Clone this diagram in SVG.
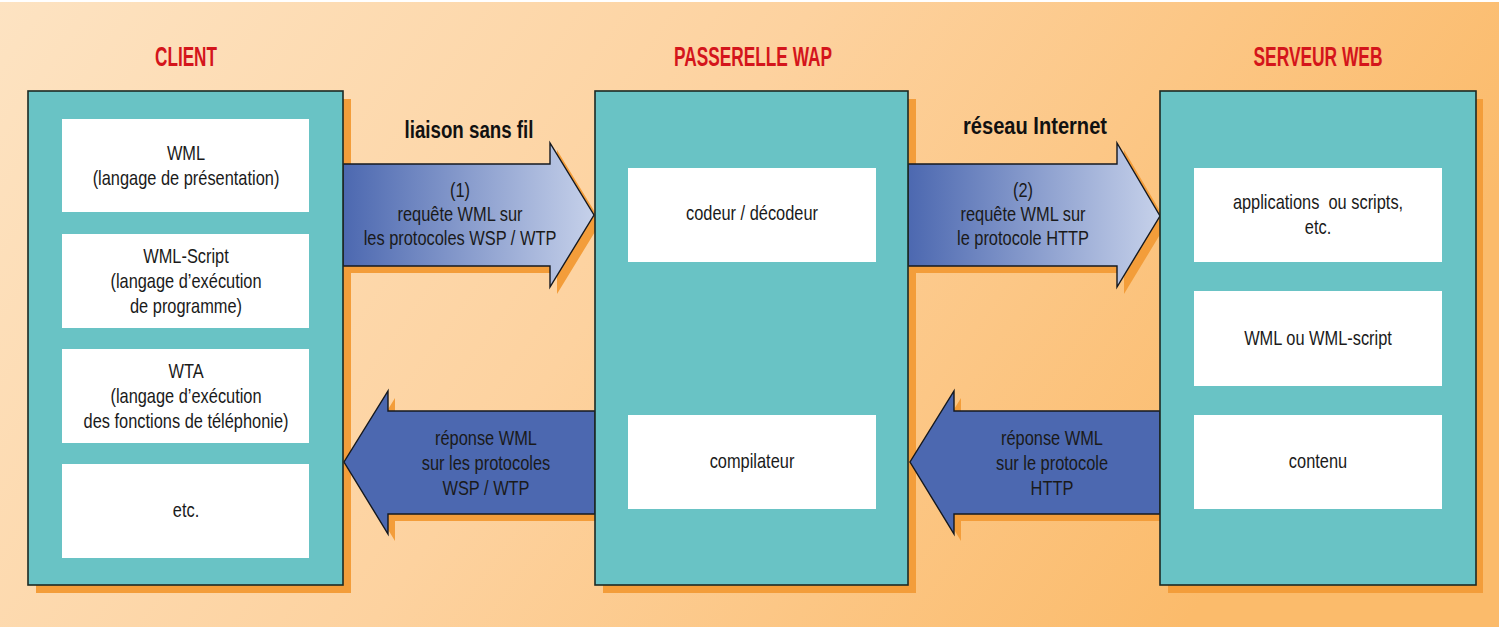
<svg xmlns="http://www.w3.org/2000/svg" width="1499" height="627" viewBox="0 0 1499 627">
<defs>
<linearGradient id="bg" x1="0" y1="0" x2="1" y2="0.3">
<stop offset="0" stop-color="#fde3c2"/>
<stop offset="0.5" stop-color="#fdd29f"/>
<stop offset="1" stop-color="#fbbb6b"/>
</linearGradient>
<linearGradient id="req" x1="0" y1="0" x2="1" y2="0">
<stop offset="0" stop-color="#4c68b0"/>
<stop offset="1" stop-color="#c6d1ea"/>
</linearGradient>
<style>
.shadow{fill:#f39d3a}
.frame{fill:#69c3c5;stroke:#1c2a24;stroke-width:1.6}
.inner{fill:#ffffff}
.arrow{stroke:#14181f;stroke-width:1.4;stroke-linejoin:miter}
.t{font-family:"Liberation Sans",Arial,sans-serif;font-size:20px;fill:#1a1a1a;text-anchor:middle}
.h{font-family:"Liberation Sans",Arial,sans-serif;font-size:27px;font-weight:bold;fill:#d4151b;text-anchor:middle}
.l{font-family:"Liberation Sans",Arial,sans-serif;font-size:23px;font-weight:bold;fill:#111111;text-anchor:middle}
</style>
</defs>
<rect x="0" y="0" width="1499" height="627" fill="url(#bg)"/>
<rect x="0" y="0" width="1499" height="2" fill="#ffffff"/>

<g id="connectors">
<g id="shadows-arrows">
<polygon class="shadow" points="350,171 557,171 557,150 601,222 557,294 557,273 350,273"/>
<polygon class="shadow" points="915,171 1124,171 1124,150 1167,223 1124,294 1124,273 915,273"/>
<polygon class="shadow" points="602,418 395,418 395,398 351,469 395,541 395,521 602,521"/>
<polygon class="shadow" points="1167,418 961,418 961,398 917,469 961,541 961,521 1167,521"/>
</g>
</g>

<g id="box-shadows">
<rect class="shadow" x="36" y="99" width="315" height="494"/>
<rect class="shadow" x="603" y="99" width="313" height="494"/>
<rect class="shadow" x="1168" y="99" width="315" height="494"/>
</g>

<g id="arrows">
<g id="arrow-req1">
<polygon class="arrow" fill="url(#req)" points="343,164 550,164 550,143 594,215 550,287 550,266 343,266"/>
<g transform="translate(460 0) scale(0.82 1)">
<text class="t" x="0" y="197">(1)</text>
<text class="t" x="0" y="221">requête WML sur</text>
<text class="t" x="0" y="245">les protocoles WSP / WTP</text>
</g>
</g>
<g id="arrow-req2">
<polygon class="arrow" fill="url(#req)" points="908,164 1117,164 1117,143 1160,216 1117,287 1117,266 908,266"/>
<g transform="translate(1023 0) scale(0.82 1)">
<text class="t" x="0" y="197">(2)</text>
<text class="t" x="0" y="221">requête WML sur</text>
<text class="t" x="0" y="245">le protocole HTTP</text>
</g>
</g>
<g id="arrow-rep1">
<polygon class="arrow" fill="#4c68b0" points="595,411 388,411 388,391 344,462 388,534 388,514 595,514"/>
<g transform="translate(486 0) scale(0.82 1)">
<text class="t" x="0" y="445">réponse WML</text>
<text class="t" x="0" y="470">sur les protocoles</text>
<text class="t" x="0" y="495">WSP / WTP</text>
</g>
</g>
<g id="arrow-rep2">
<polygon class="arrow" fill="#4c68b0" points="1160,411 954,411 954,391 910,462 954,534 954,514 1160,514"/>
<g transform="translate(1052 0) scale(0.82 1)">
<text class="t" x="0" y="445">réponse WML</text>
<text class="t" x="0" y="470">sur le protocole</text>
<text class="t" x="0" y="495">HTTP</text>
</g>
</g>
</g>

<g id="label-liaison"><text class="l" x="469" y="138" textLength="129" lengthAdjust="spacingAndGlyphs">liaison sans fil</text></g>
<g id="label-reseau"><text class="l" x="1035" y="134" textLength="144" lengthAdjust="spacingAndGlyphs">réseau Internet</text></g>

<g id="client">
<text class="h" x="186" y="66" textLength="62" lengthAdjust="spacingAndGlyphs">CLIENT</text>
<rect class="frame" x="28" y="91" width="315" height="494"/>
<g id="client-wml">
<rect class="inner" x="62" y="119" width="247" height="93"/>
<g transform="translate(186 0) scale(0.82 1)">
<text class="t" x="0" y="160">WML</text>
<text class="t" x="0" y="185">(langage de présentation)</text>
</g>
</g>
<g id="client-wmlscript">
<rect class="inner" x="62" y="234" width="247" height="94"/>
<g transform="translate(186 0) scale(0.82 1)">
<text class="t" x="0" y="263">WML-Script</text>
<text class="t" x="0" y="288">(langage d’exécution</text>
<text class="t" x="0" y="313">de programme)</text>
</g>
</g>
<g id="client-wta">
<rect class="inner" x="62" y="349" width="247" height="94"/>
<g transform="translate(186 0) scale(0.82 1)">
<text class="t" x="0" y="378">WTA</text>
<text class="t" x="0" y="403">(langage d’exécution</text>
<text class="t" x="0" y="428">des fonctions de téléphonie)</text>
</g>
</g>
<g id="client-etc">
<rect class="inner" x="62" y="464" width="247" height="94"/>
<g transform="translate(186 0) scale(0.82 1)">
<text class="t" x="0" y="517">etc.</text>
</g>
</g>
</g>

<g id="passerelle">
<text class="h" x="753" y="66" textLength="158" lengthAdjust="spacingAndGlyphs">PASSERELLE WAP</text>
<rect class="frame" x="595" y="91" width="313" height="494"/>
<g id="gw-codeur">
<rect class="inner" x="628" y="168" width="248" height="94"/>
<g transform="translate(752 0) scale(0.82 1)">
<text class="t" x="0" y="220">codeur / décodeur</text>
</g>
</g>
<g id="gw-compilateur">
<rect class="inner" x="628" y="415" width="248" height="94"/>
<g transform="translate(752 0) scale(0.82 1)">
<text class="t" x="0" y="468">compilateur</text>
</g>
</g>
</g>

<g id="serveur">
<text class="h" x="1318" y="66" textLength="129" lengthAdjust="spacingAndGlyphs">SERVEUR WEB</text>
<rect class="frame" x="1160" y="91" width="316" height="494"/>
<g id="srv-applications">
<rect class="inner" x="1194" y="168" width="248" height="94"/>
<g transform="translate(1318 0) scale(0.82 1)">
<text class="t" x="0" y="209" xml:space="preserve">applications  ou scripts,</text>
<text class="t" x="0" y="234">etc.</text>
</g>
</g>
<g id="srv-wml">
<rect class="inner" x="1194" y="291" width="248" height="95"/>
<g transform="translate(1318 0) scale(0.82 1)">
<text class="t" x="0" y="345">WML ou WML-script</text>
</g>
</g>
<g id="srv-contenu">
<rect class="inner" x="1194" y="415" width="248" height="94"/>
<g transform="translate(1318 0) scale(0.82 1)">
<text class="t" x="0" y="468">contenu</text>
</g>
</g>
</g>
</svg>
